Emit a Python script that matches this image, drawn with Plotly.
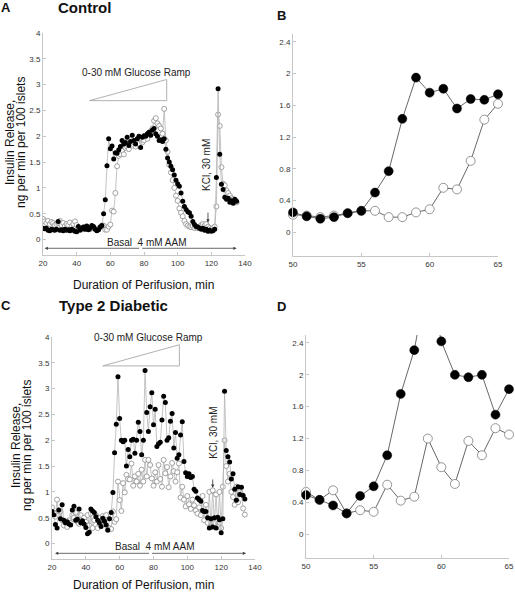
import plotly.graph_objects as go

FONT = "Liberation Sans, Arial, sans-serif"
W, H = 515, 593

# ---------------- data ----------------
time_control = list(range(20, 136))
control_filled = [
    0.22, 0.21, 0.22, 0.18, 0.17, 0.20, 0.19, 0.18, 0.20, 0.35,
    0.18, 0.19, 0.17, 0.20, 0.18, 0.19, 0.17, 0.20, 0.18, 0.16,
    0.15, 0.25, 0.18, 0.21, 0.24, 0.20, 0.26, 0.19, 0.22, 0.27,
    0.25, 0.20, 0.17, 0.19, 0.24, 0.27, 0.50, 0.77, 1.43, 1.95,
    1.76, 1.81, 1.56, 1.68, 1.67, 1.74, 1.80, 1.92, 1.85, 1.88,
    1.98, 1.82, 1.90, 2.02, 1.92, 1.85, 1.95, 2.00, 1.78, 1.98,
    2.01, 2.00, 2.05, 2.08, 2.02, 2.12, 2.15, 2.05, 2.00, 1.92,
    1.93, 1.90, 1.95, 1.75, 1.58, 1.50, 1.42, 1.35, 1.25, 1.15,
    1.08, 1.03, 0.90, 0.74, 0.64, 0.58, 0.54, 0.52, 0.45, 0.35,
    0.29, 0.25, 0.24, 0.22, 0.20, 0.22, 0.18, 0.20, 0.16, 0.18,
    0.16, 0.17, 0.20, 1.20, 2.92, 1.65, 1.07, 0.97, 0.82, 0.78,
    0.80, 0.72, 0.75, 0.70, 0.78, 0.74,
]
control_open = [
    0.40, 0.35, 0.32, 0.36, 0.30, 0.34, 0.32, 0.28, 0.30, 0.32,
    0.36, 0.28, 0.32, 0.26, 0.30, 0.28, 0.33, 0.26, 0.30, 0.35,
    0.28, 0.22, 0.20, 0.22, 0.20, 0.24, 0.21, 0.23, 0.20, 0.24,
    0.22, 0.21, 0.19, 0.21, 0.24, 0.27, 0.27, 0.19, 0.19, 0.25,
    0.29, 0.56, 0.54, 0.90, 1.42, 1.62, 1.65, 1.72, 1.65, 1.78,
    1.80, 1.75, 1.85, 1.82, 1.88, 1.80, 1.90, 1.85, 1.95, 1.88,
    1.92, 2.00, 1.95, 2.05, 2.10, 2.15, 2.30, 2.35, 2.25, 2.20,
    2.15, 2.05, 2.53, 1.92, 1.70, 1.45, 1.30, 1.15, 1.00, 0.85,
    0.75, 0.60, 0.52, 0.45, 0.36, 0.30, 0.27, 0.25, 0.24, 0.26,
    0.22, 0.24, 0.22, 0.25, 0.28, 0.30, 0.27, 0.30, 0.25, 0.22,
    0.20, 0.22, 0.25, 0.64, 2.42, 2.20, 1.40, 1.08, 1.05, 0.95,
    0.90, 0.85, 0.80, 0.78, 0.75, 0.72,
]

time_diabetic = list(range(20, 135))
diabetic_filled = [
    0.62, 0.55, 0.37, 0.30, 0.65, 0.48, 0.75, 0.45, 0.40, 0.42,
    0.38, 0.36, 0.65, 0.72, 0.45, 0.47, 0.67, 0.40, 0.44, 0.38,
    0.31, 0.19, 0.22, 0.67, 0.63, 0.60, 0.52, 0.45, 0.40, 0.33,
    0.49, 0.43, 0.36, 0.26, 0.48, 0.60, 0.99, 1.76, 2.31, 3.23,
    2.42, 2.00, 1.97, 2.00, 1.50, 1.82, 1.68, 2.00, 2.02, 1.75,
    2.00, 2.35, 2.17, 1.72, 2.00, 3.35, 2.54, 2.17, 2.65, 2.92,
    2.30, 2.60, 1.88, 1.93, 1.96, 2.39, 2.85, 2.73, 2.00, 2.05,
    2.37, 2.52, 1.85, 2.15, 1.65, 1.72, 2.10, 2.36, 1.59, 1.37,
    1.30, 1.35, 1.28, 1.30, 1.05, 1.01, 0.88, 0.85, 0.82, 0.64,
    0.62, 0.62, 0.50, 0.30, 0.48, 0.32, 0.50, 0.30, 0.51, 0.46,
    0.21, 0.48, 2.95, 1.80, 1.68, 1.58, 1.25, 1.35, 1.05, 0.84,
    1.10, 0.95, 1.09, 0.93, 0.86,
]
diabetic_open = [
    0.70, 0.60, 0.52, 0.85, 0.55, 0.62, 0.45, 0.35, 0.40, 0.32,
    0.45, 0.40, 0.55, 0.50, 0.60, 0.42, 0.38, 0.55, 0.40, 0.50,
    0.42, 0.55, 0.35, 0.58, 0.30, 0.45, 0.55, 0.30, 0.50, 0.40,
    0.53, 0.43, 0.55, 0.26, 0.30, 0.28, 0.62, 0.42, 0.47, 1.20,
    0.84, 0.63, 1.17, 0.99, 1.33, 1.25, 1.24, 1.55, 1.12, 1.30,
    1.20, 1.35, 1.12, 1.43, 1.20, 1.62, 1.30, 1.62, 1.52, 1.26,
    1.12, 1.38, 1.20, 1.52, 1.25, 1.10, 1.62, 1.36, 1.48, 1.09,
    1.30, 1.56, 1.40, 1.20, 1.38, 1.55, 0.89, 1.10, 0.85, 0.72,
    0.92, 0.76, 0.67, 0.85, 0.74, 0.64, 0.58, 0.70, 0.55, 0.92,
    0.45, 0.75, 0.40, 1.00, 0.32, 1.03, 0.40, 0.95, 0.32, 1.00,
    0.30, 1.10, 2.00, 1.50, 1.20, 1.35, 1.00, 0.90, 0.75, 1.10,
    0.80, 1.00, 0.95, 0.68, 0.56,
]

zoom_window = (50, 65)
zoom_ymax = 2.5

full_xticks = [20, 40, 60, 80, 100, 120, 140]
full_yticks = [0, 0.5, 1, 1.5, 2, 2.5, 3, 3.5, 4]
zoom_xticks = [50, 55, 60, 65]
zoom_yticks = [0, 0.4, 0.8, 1.2, 1.6, 2, 2.4]
zoom_yticktext = ["0", "0.4", "0.8", "1.2", "1.6", "2", "2.4"]


def window(t, v, lo, hi, vmax=None):
    pts = [(a, b) for a, b in zip(t, v)
           if lo <= a <= hi and (vmax is None or b <= vmax)]
    return [p[0] for p in pts], [p[1] for p in pts]


def xp(px):
    return px / W


def yp(py):
    return 1 - py / H


fig = go.Figure()

# ---- full time course traces (A: x/y, C: x3/y3) ----
small_open = dict(size=5, color="white", line=dict(color="#8c8c8c", width=0.8))
small_fill = dict(size=5, color="black", line=dict(color="black", width=0))
thin_gray = dict(color="#b4b4b4", width=0.8)

for (t, fo, op, xa, ya) in [
    (time_control, control_filled, control_open, "x", "y"),
    (time_diabetic, diabetic_filled, diabetic_open, "x3", "y3"),
]:
    fig.add_trace(go.Scatter(x=t, y=op, mode="lines+markers", marker=small_open,
                             line=thin_gray, xaxis=xa, yaxis=ya, showlegend=False))
    fig.add_trace(go.Scatter(x=t, y=fo, mode="lines+markers", marker=small_fill,
                             line=thin_gray, xaxis=xa, yaxis=ya, showlegend=False))

# ---- zoomed windows (B: x2/y2, D: x4/y4) ----
big_open = dict(size=9, color="white", line=dict(color="#7a7a7a", width=0.8))
big_fill = dict(size=9, color="black", line=dict(color="black", width=0.5))
thin_dark = dict(color="#404040", width=0.8)

for (t, fo, op, xa, ya) in [
    (time_control, control_filled, control_open, "x2", "y2"),
    (time_diabetic, diabetic_filled, diabetic_open, "x4", "y4"),
]:
    for vals, mk in [(op, big_open), (fo, big_fill)]:
        tl, vl = window(t, vals, *zoom_window)
        fig.add_trace(go.Scatter(x=tl, y=vl, mode="lines", line=thin_dark,
                                 xaxis=xa, yaxis=ya, showlegend=False))
        tm, vm = window(t, vals, *zoom_window, vmax=zoom_ymax)
        fig.add_trace(go.Scatter(x=tm, y=vm, mode="markers", marker=mk,
                                 cliponaxis=False, xaxis=xa, yaxis=ya,
                                 showlegend=False))

axis_style = dict(showline=True, linecolor="#c6c6c6", linewidth=1, ticks="inside",
                  ticklen=3, tickcolor="#c6c6c6", showgrid=False, zeroline=False,
                  automargin=False,
                  tickfont=dict(family=FONT, size=8, color="#333"))

fig.update_layout(
    width=W, height=H, margin=dict(l=0, r=0, t=0, b=0, pad=0),
    paper_bgcolor="white", plot_bgcolor="white",
    font=dict(family=FONT, color="#222"),
    xaxis=dict(domain=[xp(43), xp(245)], range=[20, 140], tickvals=full_xticks,
               anchor="y", **axis_style),
    yaxis=dict(domain=[yp(255), yp(33)], range=[-0.3, 4], tickvals=full_yticks,
               anchor="x", **axis_style),
    xaxis2=dict(domain=[xp(293), xp(498)], range=[50, 65], tickvals=zoom_xticks,
                anchor="y2", **axis_style),
    yaxis2=dict(domain=[yp(256), yp(34)], range=[-0.3, 2.5], tickvals=zoom_yticks,
                ticktext=zoom_yticktext, anchor="x2", **axis_style),
    xaxis3=dict(domain=[xp(52), xp(255)], range=[20, 140], tickvals=full_xticks,
                anchor="y3", **axis_style),
    yaxis3=dict(domain=[yp(559), yp(337)], range=[-0.3, 4], tickvals=full_yticks,
                anchor="x3", **axis_style),
    xaxis4=dict(domain=[xp(306), xp(509)], range=[50, 65], tickvals=zoom_xticks,
                anchor="y4", **axis_style),
    yaxis4=dict(domain=[yp(558), yp(335)], range=[-0.3, 2.5], tickvals=zoom_yticks,
                ticktext=zoom_yticktext, anchor="x4", **axis_style),
)

ann = []


def paper_text(text, px, py, size, bold=False, angle=0):
    ann.append(dict(text=f"<b>{text}</b>" if bold else text, x=xp(px), y=yp(py),
                    xref="paper", yref="paper", showarrow=False, textangle=angle,
                    xanchor="center", yanchor="middle",
                    font=dict(family=FONT, size=size, color="#111")))


# panel letters and titles
paper_text("A", 6, 7, 13, True)
paper_text("Control", 84, 7, 15, True)
paper_text("B", 281, 16, 13, True)
paper_text("C", 6, 305, 13, True)
paper_text("Type 2 Diabetic", 113, 305, 15, True)
paper_text("D", 281, 306, 13, True)

# axis titles
paper_text("Insulin Release,", 10, 143, 12, False, -90)
paper_text("ng per min per 100 islets", 21, 143, 12, False, -90)
paper_text("Duration of Perifusion, min", 143, 285, 12)
paper_text("Insulin Release,", 16, 446, 12, False, -90)
paper_text("ng per min per 100 islets", 27, 446, 12, False, -90)
paper_text("Duration of Perifusion, min", 143, 585, 12)

# in-plot annotations
ramp = {"x": ([47.7, 93.5], [2.69, 3.10]), "x3": ([50.0, 95.3], [3.44, 3.85])}
ramp_label = {"x": (75.7, 3.23), "x3": (77.1, 4.0)}
kcl_label = {"x": (116.7, 1.44), "x3": (115.3, 2.15)}
kcl_arrow = {"x": (118, 0.55, 0.33), "x3": (115, 1.27, 1.08)}
basal_label = {"x": (81.7, -0.06), "x3": (80.6, -0.06)}
basal_arrow = {"x": (21, 135, -0.17), "x3": (21.8, 134.7, -0.19)}

shapes = []
for xa, ya in [("x", "y"), ("x3", "y3")]:
    (x0, x1), (y0, y1) = ramp[xa]
    shapes.append(dict(type="path", xref=xa, yref=ya,
                       path=f"M {x0},{y0} L {x1},{y0} L {x1},{y1} Z",
                       line=dict(color="#a8a8a8", width=0.9)))
    small = dict(family=FONT, size=10, color="#222")
    lx, ly = ramp_label[xa]
    ann.append(dict(text="0-30 mM Glucose Ramp", x=lx, y=ly, xref=xa, yref=ya,
                    showarrow=False, font=small))
    kx, ky = kcl_label[xa]
    ann.append(dict(text="KCl, 30 mM", x=kx, y=ky, xref=xa, yref=ya, textangle=-90,
                    showarrow=False, font=small))
    ax_, ay0, ay1 = kcl_arrow[xa]
    ann.append(dict(text="", x=ax_, y=ay1, ax=ax_, ay=ay0, xref=xa, yref=ya,
                    axref=xa, ayref=ya, showarrow=True, arrowhead=2, arrowsize=0.8,
                    arrowwidth=0.8, arrowcolor="#333"))
    bx, by = basal_label[xa]
    ann.append(dict(text="Basal\u00a0\u00a04 mM AAM", x=bx, y=by, xref=xa, yref=ya,
                    showarrow=False, font=small))
    b0, b1, byy = basal_arrow[xa]
    mid = (b0 + b1) / 2
    for end in (b0, b1):
        ann.append(dict(text="", x=end, y=byy, ax=mid, ay=byy, xref=xa, yref=ya,
                        axref=xa, ayref=ya, showarrow=True, arrowhead=2,
                        arrowsize=0.8, arrowwidth=0.8, arrowcolor="#444"))

fig.update_layout(annotations=ann, shapes=shapes)
fig.write_html("out.html",
               config={"displayModeBar": False},
               post_script="document.body.style.margin='0';"
                           "document.body.style.overflow='hidden';")
